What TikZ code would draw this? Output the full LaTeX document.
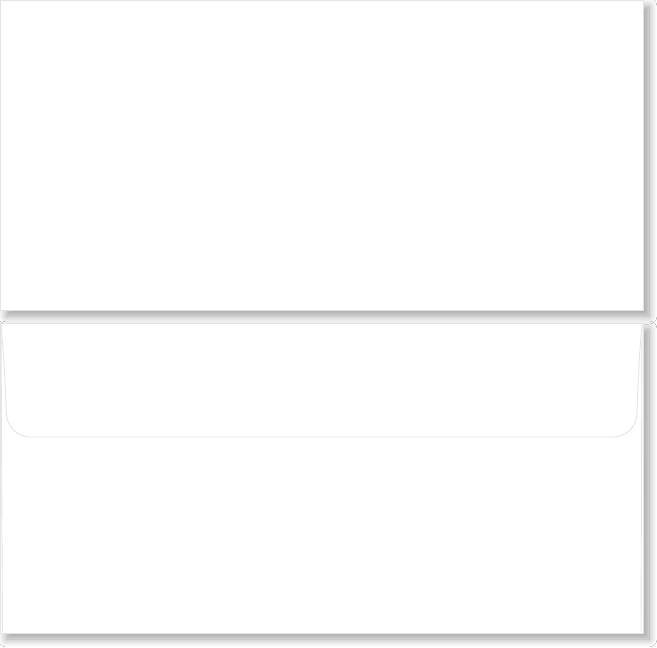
\documentclass[tikz,border=0pt]{standalone}
\usepackage{tikz}
\usetikzlibrary{shadows.blur, calc}
\definecolor{edgegray}{HTML}{E4E4E4}
\definecolor{seamgray}{HTML}{E4E4E4}
\tikzstyle{sheet} = [draw=edgegray, line width=0.5pt, fill=white,
blur shadow={shadow xshift=0.12cm, shadow yshift=-0.12cm, shadow blur radius=0.16cm, shadow blur steps=12, shadow opacity=38}]
\tikzstyle{seam} = [draw=seamgray, line width=0.5pt]

\begin{document}
\begin{tikzpicture}[x=0.02cm, y=-0.02cm]
        \useasboundingbox[fill=white] (0,0) rectangle (657,647);
        % front of the envelope
        \draw [sheet] (0.5,0.5) rectangle (643,310);
        % back of the envelope
        \draw [sheet] (0.5,323) rectangle (643,633);

        \coordinate (TL) at (1,325);
        \coordinate (TR) at (642,325);
        \coordinate (BL) at (2.5,632);
        \coordinate (BR) at (641,632);

        \draw [seam] (TL) -- (BL);
        \draw [seam] (TR) -- (BR);
        \draw [seam, rounded corners=13] (TL) .. controls (4,360) .. (7.5,437) -- (636,437) .. controls (639,360) .. (TR);

    \end{tikzpicture}
\end{document}
